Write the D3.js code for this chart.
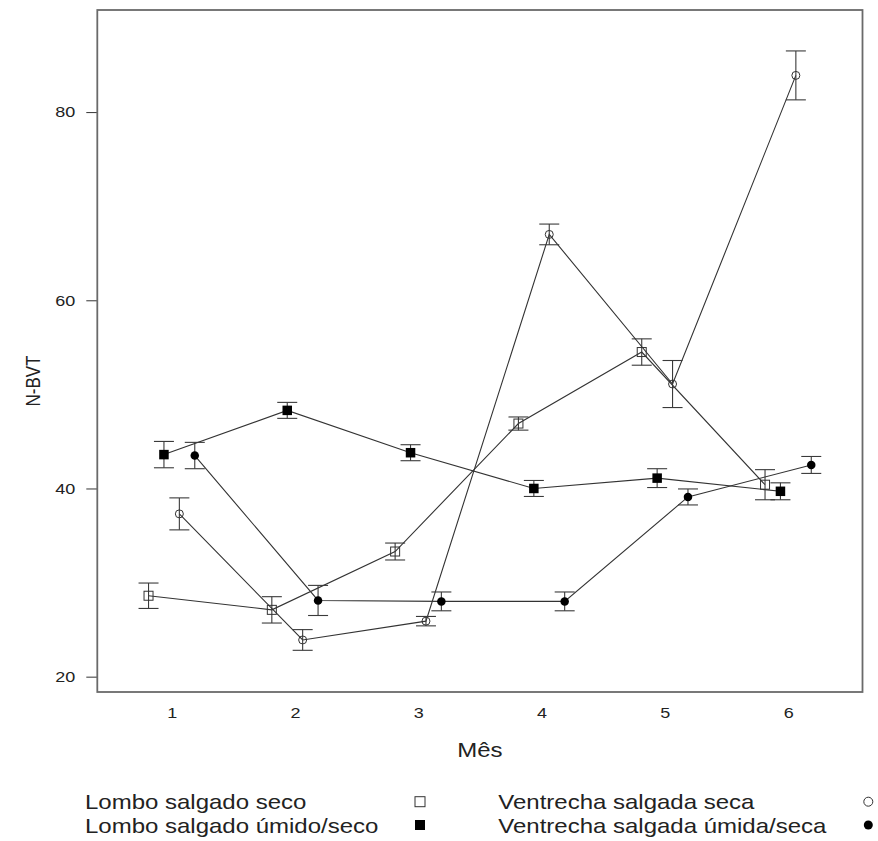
<!DOCTYPE html>
<html>
<head>
<meta charset="utf-8">
<script src="https://cdn.jsdelivr.net/npm/d3@7"></script>
<style>
  body { margin: 0; background: #fff; }
  text { font-family: "Liberation Sans", Arial, sans-serif; fill: #222; }
</style>
</head>
<body>
<script>
var width = 878
var height = 841

// data (mean and half error bar)
var months = [1, 2, 3, 4, 5, 6]
var seriesNames = ["Lombo salgado seco", "Lombo salgado úmido/seco", "Ventrecha salgada seca", "Ventrecha salgada úmida/seca"]
var lomboSeco = [28.6, 27.1, 33.3, 46.9, 54.5, 40.4]
var lomboSecoErr = [1.35, 1.4, 0.9, 0.7, 1.4, 1.6]
var lomboUmido = [43.6, 48.3, 43.8, 40.0, 41.1, 39.7]
var lomboUmidoErr = [1.4, 0.85, 0.85, 0.85, 1.0, 0.9]
var ventrechaSeca = [37.3, 23.9, 25.9, 67.0, 51.1, 83.9]
var ventrechaSecaErr = [1.7, 1.1, 0.5, 1.1, 2.5, 2.6]
var ventrechaUmida = [43.5, 28.1, 28.0, 28.0, 39.1, 42.5]
var ventrechaUmidaErr = [1.4, 1.6, 1.0, 1.0, 0.85, 0.9]
var dodge = [-0.1875, -0.0625, 0.0625, 0.1875]
var yTicks = [20, 40, 60, 80]

var means = [lomboSeco, lomboUmido, ventrechaSeca, ventrechaUmida]
var errs = [lomboSecoErr, lomboUmidoErr, ventrechaSecaErr, ventrechaUmidaErr]
var shapes = ["openSquare", "square", "openCircle", "circle"]

var sx = 1.2  // picture is stretched horizontally

var x = d3.scaleLinear().domain([0.397, 6.603]).range([97.3, 862.5])
var y = d3.scaleLinear().domain([18.37, 90.85]).range([692, 10])

var svg = d3.select("body").append("svg")
    .attr("width", width)
    .attr("height", height)

// y axis
var yAxis = svg.append("g")
    .attr("transform", "translate(" + x.range()[0] + ",0)")
    .call(d3.axisLeft(y).tickValues(yTicks).tickSize(11).tickFormat(d3.format("d")))
yAxis.select(".domain").remove()
yAxis.selectAll("line").attr("stroke", "#333")
yAxis.selectAll("text")
    .attr("x", null)
    .attr("font-size", 15)
    .attr("font-family", "Liberation Sans, Arial, sans-serif")
    .attr("fill", "#222")
    .attr("transform", "translate(-22,0) scale(" + sx + ",1)")

// x axis, labels only
var xAxis = svg.append("g")
    .attr("transform", "translate(0," + y.range()[0] + ")")
    .call(d3.axisBottom(x).tickValues(months).tickSize(0).tickPadding(15).tickFormat(d3.format("d")))
xAxis.select(".domain").remove()
xAxis.selectAll("text")
    .attr("font-size", 15)
    .attr("font-family", "Liberation Sans, Arial, sans-serif")
    .attr("fill", "#222")
    .attr("transform", "scale(" + sx + ",1)")

// box
svg.append("rect")
    .attr("x", x.range()[0])
    .attr("y", y.range()[1])
    .attr("width", x.range()[1] - x.range()[0])
    .attr("height", y.range()[0] - y.range()[1])
    .attr("fill", "none")
    .attr("stroke", "#6a6a6a")
    .attr("stroke-width", 1.8)

// axis titles
svg.append("text")
    .attr("transform", "translate(" + ((x.range()[0] + x.range()[1]) / 2) + ",757) scale(" + sx + ",1)")
    .attr("text-anchor", "middle")
    .attr("font-size", 20)
    .text("Mês")

svg.append("text")
    .attr("transform", "translate(40,381) rotate(-90) scale(1," + sx + ")")
    .attr("text-anchor", "middle")
    .attr("font-size", 17)
    .text("N-BVT")

function drawSymbol(g, shape, cx, cy, s) {
  if (shape == "openSquare" || shape == "square") {
    g.append("rect")
        .attr("x", cx - s / 2)
        .attr("y", cy - s / 2)
        .attr("width", s)
        .attr("height", s)
        .attr("fill", shape == "square" ? "#000" : "none")
        .attr("stroke", shape == "square" ? "none" : "#333")
        .attr("stroke-width", 1)
  } else {
    g.append("circle")
        .attr("cx", cx)
        .attr("cy", cy)
        .attr("r", s / 2)
        .attr("fill", shape == "circle" ? "#000" : "none")
        .attr("stroke", shape == "circle" ? "none" : "#333")
        .attr("stroke-width", 1)
  }
}

var plot = svg.append("g")
var line = d3.line()
    .x(function(d) { return x(d.x) })
    .y(function(d) { return y(d.v) })

means.forEach(function(vals, si) {
  var pts = vals.map(function(v, i) {
    return {x: months[i] + dodge[si], v: v, e: errs[si][i]}
  })

  plot.append("path")
      .datum(pts)
      .attr("d", line)
      .attr("fill", "none")
      .attr("stroke", "#333")
      .attr("stroke-width", 1.1)

  var eb = plot.append("g")
      .attr("stroke", "#3a3a3a")
      .attr("stroke-width", 1.1)
  pts.forEach(function(p) {
    var cx = x(p.x)
    eb.append("line")
        .attr("x1", cx).attr("x2", cx)
        .attr("y1", y(p.v - p.e)).attr("y2", y(p.v + p.e))
    eb.append("line")
        .attr("x1", cx - 10).attr("x2", cx + 10)
        .attr("y1", y(p.v - p.e)).attr("y2", y(p.v - p.e))
    eb.append("line")
        .attr("x1", cx - 10).attr("x2", cx + 10)
        .attr("y1", y(p.v + p.e)).attr("y2", y(p.v + p.e))
  })

  var sz = si % 2 == 0 ? (si == 0 ? 9 : 8) : (si == 1 ? 9.5 : 8.5)
  pts.forEach(function(p) {
    drawSymbol(plot, shapes[si], x(p.x), y(p.v), sz)
  })
})

// legend
var legendPos = [[85, 809.3, 420, 801.7], [85, 832.7, 420, 825], [498.3, 809.3, 868.3, 801.7], [498.3, 832.7, 868.3, 825]]
var legend = svg.append("g")
seriesNames.forEach(function(name, i) {
  var p = legendPos[i]
  legend.append("text")
      .attr("transform", "translate(" + p[0] + "," + p[1] + ") scale(" + sx + ",1)")
      .attr("font-size", 20)
      .text(name)
  drawSymbol(legend, shapes[i], p[2], p[3], i < 2 ? 10 : 9)
})
</script>
</body>
</html>
